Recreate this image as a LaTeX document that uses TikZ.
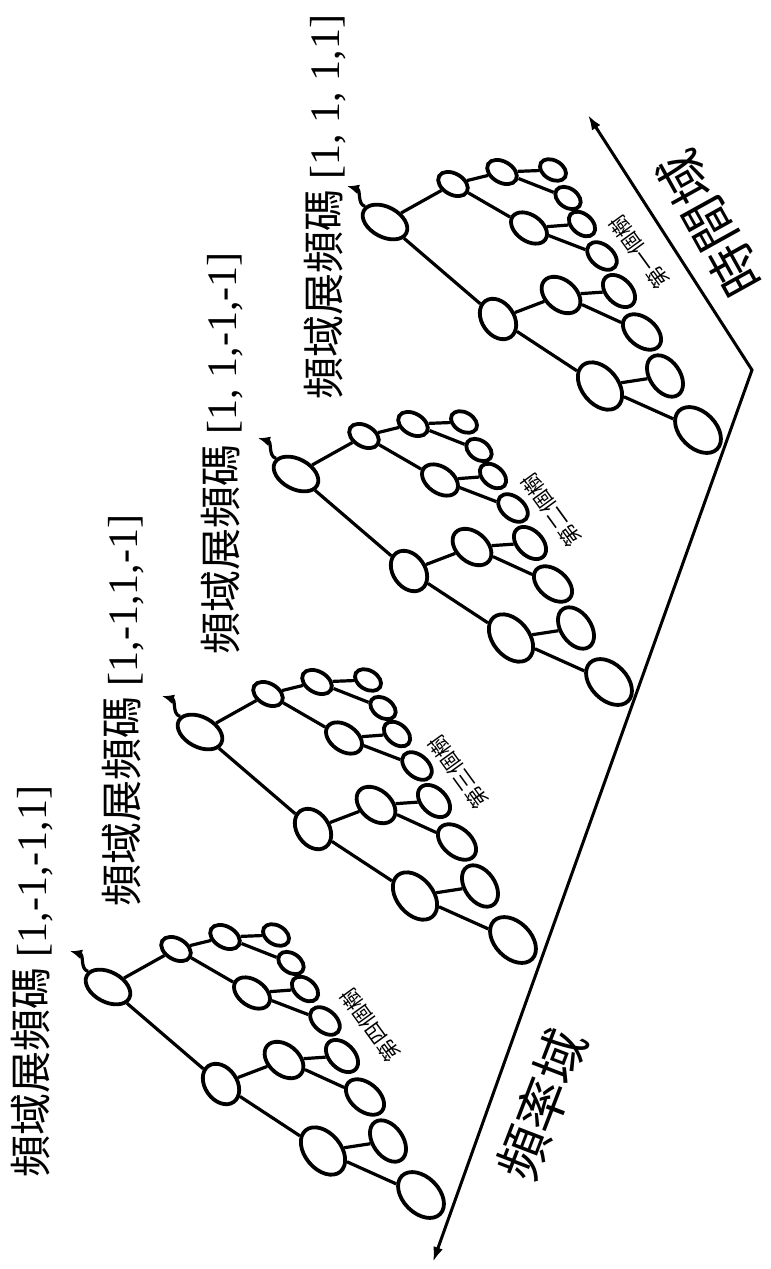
\documentclass[tikz,border=0pt]{standalone}
\usepackage{fontspec}
\setmainfont{Liberation Serif}
\newfontfamily\cjk{Noto Sans CJK TC}
\usetikzlibrary{shapes.geometric,arrows.meta}
\tikzset{
  ovalnode/.style={draw, ellipse, line width=1.9pt, inner sep=0pt},
  treeedge/.style={line width=1.6pt},
  tailarrow/.style={line width=1.6pt, -{Latex[length=6pt,width=5pt]}},
  axisline/.style={line width=1.5pt, line join=miter, {Latex[length=7.5pt,width=5pt]}-{Latex[length=7.5pt,width=5pt]}},
  biglabel/.style={font=\fontsize{21}{25}\selectfont, inner sep=0pt, anchor=west, rotate=90},
  treelabel/.style={font=\cjk\fontsize{10.5}{12}\selectfont, inner sep=0pt},
  domainlabel/.style={font=\cjk\fontsize{26}{30}\selectfont, inner sep=0pt}
}
\newcommand\mytree[4]{%
\begin{scope}[shift={(#2,#3)}]
\node[ovalnode,minimum width=24pt,minimum height=15pt,rotate=-28] (#1r) at (0,0) {};
\node[ovalnode,minimum width=16pt,minimum height=10.5pt,rotate=-30] (#1a) at (68,-38) {};
\node[ovalnode,minimum width=22pt,minimum height=16pt,rotate=-55] (#1b) at (113,97) {};
\node[ovalnode,minimum width=16pt,minimum height=10.5pt,rotate=-30] (#1aa) at (117,-50) {};
\node[ovalnode,minimum width=20pt,minimum height=13pt,rotate=-35] (#1ab) at (144,6) {};
\node[ovalnode,minimum width=14pt,minimum height=9.5pt,rotate=-30] (#1aaa) at (168,-52) {};
\node[ovalnode,minimum width=14pt,minimum height=9.5pt,rotate=-35] (#1aab) at (183,-24) {};
\node[ovalnode,minimum width=15pt,minimum height=10pt,rotate=-40] (#1aba) at (197,2) {};
\node[ovalnode,minimum width=17pt,minimum height=11pt,rotate=-40] (#1abb) at (217,34) {};
\node[ovalnode,minimum width=22pt,minimum height=15pt,rotate=-40] (#1ba) at (176,73) {};
\node[ovalnode,minimum width=19pt,minimum height=12.5pt,rotate=-45] (#1baa) at (234,69) {};
\node[ovalnode,minimum width=22pt,minimum height=14pt,rotate=-40] (#1bab) at (257,110) {};
\node[ovalnode,minimum width=27pt,minimum height=18pt,rotate=-50] (#1bb) at (215,164) {};
\node[ovalnode,minimum width=23pt,minimum height=15pt,rotate=-55] (#1bba) at (280,154) {};
\node[ovalnode,minimum width=27pt,minimum height=18pt,rotate=-45] (#1bbb) at (313,208) {};
\draw[treeedge] (#1r) -- (#1a);
\draw[treeedge] (#1r) -- (#1b);
\draw[treeedge] (#1a) -- (#1aa);
\draw[treeedge] (#1a) -- (#1ab);
\draw[treeedge] (#1aa) -- (#1aaa);
\draw[treeedge] (#1aa) -- (#1aab);
\draw[treeedge] (#1ab) -- (#1aba);
\draw[treeedge] (#1ab) -- (#1abb);
\draw[treeedge] (#1b) -- (#1ba);
\draw[treeedge] (#1b) -- (#1bb);
\draw[treeedge] (#1ba) -- (#1baa);
\draw[treeedge] (#1ba) -- (#1bab);
\draw[treeedge] (#1bb) -- (#1bba);
\draw[treeedge] (#1bb) -- (#1bbb);
\coordinate (#1t) at (-38,-36);
\draw[tailarrow] (#1r.170) .. controls (-28,-18) and (-24,-32) .. (#1t);
\node[treelabel, rotate=126] (#1lab) at #4 {第#1個樹};
\end{scope}}
\begin{document}
\begin{tikzpicture}[x=0.5pt,y=-0.5pt]
\fill[white] (0,0) rectangle (771,1269);
\useasboundingbox (0,0) rectangle (771,1269);
% axes
\coordinate (vtx) at (752,370);
\coordinate (fend) at (433,1262);
\coordinate (tend) at (588,115);
\draw[axisline] (fend) -- (vtx) -- (tend);
\node[domainlabel, rotate=119] (timelab) at (710,224) {時間域};
\node[domainlabel, rotate=69] (freqlab) at (542,1105) {頻率域};
% trees
\mytree{一}{385}{222}{(254,30)}
\mytree{二}{296}{474}{(255,36)}
\mytree{三}{200}{732}{(258,40)}
\mytree{四}{108}{987}{(262,38)}
% code labels
\node[biglabel] (code1) at (32,1178) {{\cjk 頻域展頻碼} [1,-1,-1,1]};
\node[biglabel] (code2) at (123,907) {{\cjk 頻域展頻碼} [1,-1,1,-1]};
\node[biglabel] (code3) at (222,655) {{\cjk 頻域展頻碼} [1, 1,-1,-1]};
\node[biglabel] (code4) at (325,400) {{\cjk 頻域展頻碼} [1, 1, 1,1]};
\end{tikzpicture}
\end{document}
